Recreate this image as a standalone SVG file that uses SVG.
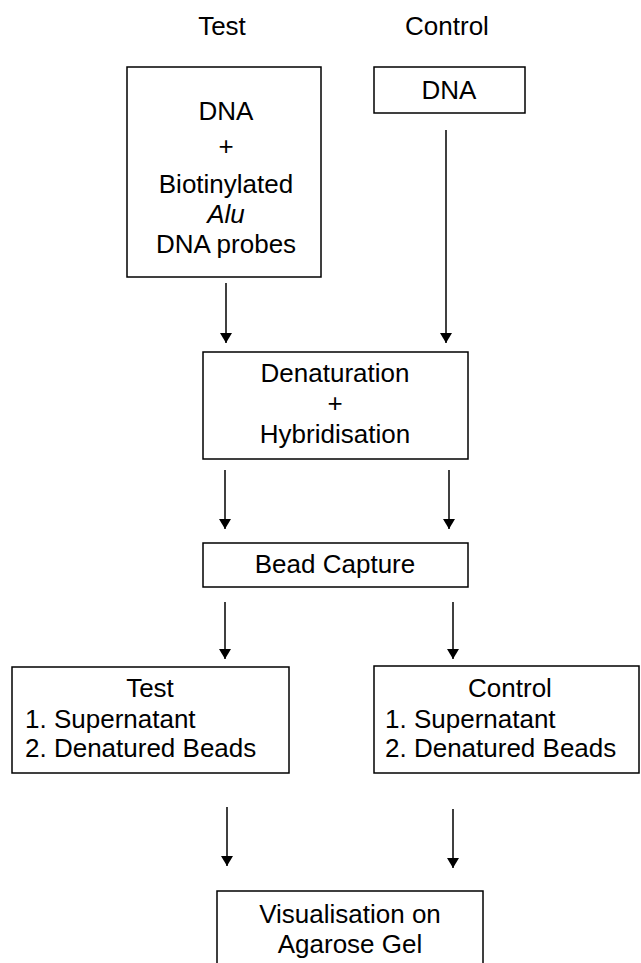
<svg xmlns="http://www.w3.org/2000/svg" width="641" height="963" viewBox="0 0 641 963">
<style>
.box{fill:#fff;stroke:#000;stroke-width:1.5}
text{font-family:"Liberation Sans",Arial,sans-serif;font-size:26px;fill:#000}
.c{text-anchor:middle}
.conn line{stroke:#000;stroke-width:1.5}
</style>
<defs>
<marker id="ah" viewBox="0 0 10 12" refX="10" refY="6" markerWidth="10" markerHeight="12" markerUnits="userSpaceOnUse" orient="auto">
<path d="M0,0 L10,6 L0,12 Z" fill="#000"/>
</marker>
</defs>
<rect width="641" height="963" fill="#fff"/>
<g id="label-test"><text class="c" x="222" y="35">Test</text></g>
<g id="label-control"><text class="c" x="447" y="35">Control</text></g>
<g id="test-input">
<rect class="box" x="127" y="67" width="194" height="210"/>
<text class="c" x="226" y="120">DNA</text>
<text class="c" x="226" y="155">+</text>
<text class="c" x="226" y="193">Biotinylated</text>
<text class="c" x="226" y="223" font-style="italic">Alu</text>
<text class="c" x="226" y="253">DNA probes</text>
</g>
<g id="control-input">
<rect class="box" x="374" y="67" width="151" height="46"/>
<text class="c" x="449" y="99">DNA</text>
</g>
<g id="denaturation">
<rect class="box" x="203" y="352" width="265" height="107"/>
<text class="c" x="335" y="382">Denaturation</text>
<text class="c" x="335" y="412">+</text>
<text class="c" x="335" y="443">Hybridisation</text>
</g>
<g id="bead-capture">
<rect class="box" x="203" y="543" width="265" height="44"/>
<text class="c" x="335" y="573">Bead Capture</text>
</g>
<g id="test-output">
<rect class="box" x="12" y="667" width="277" height="106"/>
<text class="c" x="150" y="697">Test</text>
<text x="25" y="728">1. Supernatant</text>
<text x="25" y="757">2. Denatured Beads</text>
</g>
<g id="control-output">
<rect class="box" x="374" y="666" width="265" height="107"/>
<text class="c" x="510" y="697">Control</text>
<text x="385" y="728">1. Supernatant</text>
<text x="385" y="757">2. Denatured Beads</text>
</g>
<g id="visualisation">
<rect class="box" x="217" y="891" width="266" height="90"/>
<text class="c" x="350" y="923">Visualisation on</text>
<text class="c" x="350" y="953">Agarose Gel</text>
</g>
<g id="connectors" class="conn">
<line x1="226" y1="283" x2="226" y2="343" marker-end="url(#ah)"/>
<line x1="446" y1="130" x2="446" y2="343" marker-end="url(#ah)"/>
<line x1="225" y1="470" x2="225" y2="529" marker-end="url(#ah)"/>
<line x1="449" y1="470" x2="449" y2="529" marker-end="url(#ah)"/>
<line x1="225" y1="602" x2="225" y2="659" marker-end="url(#ah)"/>
<line x1="453" y1="602" x2="453" y2="659" marker-end="url(#ah)"/>
<line x1="227" y1="807" x2="227" y2="866" marker-end="url(#ah)"/>
<line x1="453" y1="809" x2="453" y2="868" marker-end="url(#ah)"/>
</g>
</svg>
